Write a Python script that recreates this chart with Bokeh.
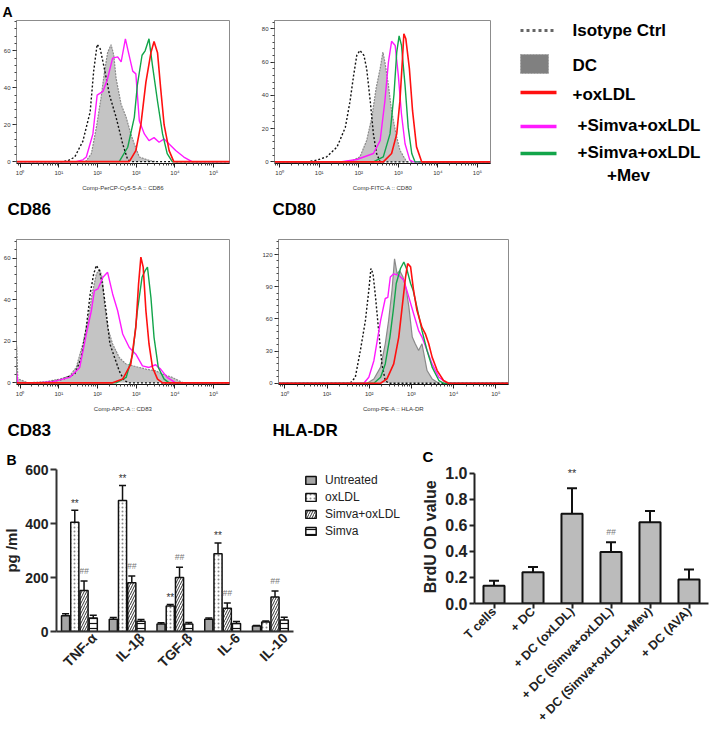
import math
from bokeh.plotting import figure
from bokeh.layouts import column, row
from bokeh.models import (Range1d, FixedTicker, SingleIntervalTicker, LabelSet, Title,
                          ColumnDataSource, Legend, LegendItem, Whisker, TeeHead)
from bokeh.core.properties import value
from bokeh.embed import file_html
from bokeh.resources import INLINE

FONT = "Liberation Sans"

# ---------------- Panel A: histograms, (log10 fluorescence, count) ----------------
cd86_iso = [(-0.1, 0), (1.1, 0), (1.24, 0.5), (1.41, 2.5), (1.62, 11), (1.81, 27), (1.90, 49), (1.99, 63.5),
            (2.07, 61), (2.18, 50), (2.31, 36), (2.48, 24), (2.65, 9.6), (2.78, 1), (2.9, 0), (5.42, 0)]
cd86_dc = [(1.6, 0), (1.71, 0.5), (1.84, 4.3), (1.97, 18.5), (2.09, 34.5), (2.18, 48.7), (2.26, 59), (2.35, 63.3),
           (2.42, 57.6), (2.48, 45), (2.61, 31), (2.74, 24), (2.86, 15), (2.95, 9.6), (3.08, 2.5), (3.33, 0.7), (3.5, 0)]
cd86_mag = [(-0.1, 0), (1.45, 0), (1.62, 1), (1.71, 2.5), (1.88, 15), (1.99, 36), (2.14, 38), (2.26, 45), (2.39, 56),
            (2.52, 56.7), (2.61, 54), (2.72, 66.5), (2.80, 59), (2.91, 49), (2.99, 47.5), (3.08, 22), (3.21, 15),
            (3.33, 11.4), (3.46, 13), (3.59, 10.5), (3.72, 12.3), (3.85, 9.6), (4.02, 6), (4.23, 2.5), (4.44, 0), (5.42, 0)]
cd86_grn = [(-0.1, 0), (2.56, 0), (2.78, 7.8), (2.95, 24), (3.03, 41.6), (3.15, 57.6), (3.23, 60), (3.33, 66.5),
            (3.42, 52), (3.55, 32.7), (3.68, 15), (3.80, 4.3), (3.93, 0), (5.42, 0)]
cd86_red = [(-0.1, 0), (2.82, 0), (2.99, 6), (3.12, 20), (3.25, 43), (3.38, 59), (3.46, 65), (3.55, 59),
            (3.63, 40), (3.72, 20), (3.85, 6), (3.97, 0), (5.42, 0)]

cd80_iso = [(-0.13, 0), (0.7, 0), (0.94, 1), (1.19, 3), (1.45, 8.9), (1.66, 20.7), (1.78, 36.5), (1.87, 52), (1.95, 64),
            (2.03, 67), (2.13, 64), (2.20, 56), (2.29, 36.5), (2.37, 16.8), (2.45, 5), (2.54, 0), (5.33, 0)]
cd80_dc = [(1.78, 0), (2.03, 3), (2.20, 12.8), (2.33, 26.7), (2.44, 44.4), (2.54, 56), (2.61, 66), (2.66, 60),
           (2.75, 46), (2.83, 30.6), (2.94, 16.8), (3.04, 7), (3.21, 0)]
cd80_mag = [(-0.13, 0), (1.53, 0), (1.95, 1.4), (2.37, 5), (2.54, 12.8), (2.66, 36.5), (2.75, 60), (2.83, 72.5),
            (2.92, 70), (3.00, 52), (3.08, 28.6), (3.17, 10.9), (3.29, 1), (3.38, 0), (5.33, 0)]
cd80_grn = [(-0.13, 0), (2.37, 0), (2.62, 3), (2.79, 16.8), (2.89, 40.5), (2.96, 66), (3.02, 75.7), (3.08, 70),
            (3.17, 46), (3.25, 20.7), (3.34, 5), (3.42, 0), (5.33, 0)]
cd80_red = [(-0.13, 0), (2.62, 0), (2.83, 5), (2.96, 16.8), (3.04, 36.5), (3.10, 60), (3.14, 77), (3.19, 74),
            (3.28, 56), (3.36, 30.6), (3.46, 9), (3.59, 0), (5.33, 0)]

cd83_iso = [(-0.1, 0), (0.68, 0), (1.11, 1.8), (1.41, 4.2), (1.58, 12), (1.71, 26.7), (1.81, 42.8), (1.90, 52.4),
            (1.97, 56.5), (2.05, 54), (2.14, 46), (2.22, 34.7), (2.32, 18.7), (2.44, 12.2), (2.56, 5.8), (2.69, 1),
            (2.82, 0), (5.42, 0)]
cd83_dc = [(-0.1, 0), (-0.09, 18), (-0.06, 2), (0.2, 0), (0.68, 0.6), (1.03, 1.8), (1.28, 3.4), (1.45, 7.4),
           (1.62, 18.7), (1.75, 30), (1.86, 42.8), (1.97, 52.4), (2.05, 54.8), (2.12, 50.8), (2.18, 38), (2.26, 26.7),
           (2.39, 18.7), (2.56, 12.2), (2.74, 9), (2.91, 8.2), (3.08, 7.4), (3.25, 6.6), (3.50, 5.8), (3.68, 4.2),
           (3.93, 2.6), (4.19, 0.2), (4.36, 0)]
cd83_mag = [(-0.1, 0), (-0.09, 5), (-0.06, 0), (0.43, 0), (0.85, 0.6), (1.28, 2.6), (1.54, 7.4), (1.71, 23.5),
            (1.84, 34.7), (1.92, 44.4), (2.01, 45.2), (2.14, 50.8), (2.26, 53.2), (2.39, 42.8), (2.52, 34.7),
            (2.65, 23.5), (2.82, 17), (2.99, 13.8), (3.16, 8.2), (3.33, 7.4), (3.50, 8.7), (3.63, 6.6), (3.80, 2.6),
            (4.02, 0), (5.42, 0)]
cd83_grn = [(-0.1, 0), (2.48, 0), (2.74, 2.6), (2.91, 13.8), (3.03, 34.7), (3.15, 50.8), (3.23, 54), (3.29, 55.7),
            (3.38, 41), (3.46, 21.9), (3.57, 7.4), (3.72, 1.8), (3.85, 0), (5.42, 0)]
cd83_red = [(-0.1, 0), (2.39, 0), (2.65, 1.8), (2.86, 9), (2.99, 26.7), (3.06, 47.6), (3.12, 60.5), (3.18, 55.7),
            (3.25, 34.7), (3.33, 18.7), (3.42, 7.4), (3.55, 1.8), (3.68, 0), (5.42, 0)]

hla_iso = [(-0.15, 0), (1.55, 0), (1.67, 5.6), (1.79, 30.5), (1.91, 58.6), (1.99, 86.7), (2.04, 107), (2.09, 102),
           (2.15, 80), (2.23, 46), (2.30, 18), (2.38, 2.5), (2.46, 0), (5.3, 0)]
hla_dc = [(1.95, 0), (2.11, 4), (2.27, 15), (2.38, 36.8), (2.46, 58.6), (2.54, 86.7), (2.60, 116), (2.66, 102),
          (2.72, 105), (2.80, 99), (2.88, 86.7), (2.94, 71), (3.02, 43), (3.09, 36.8), (3.17, 30.5), (3.25, 36.8),
          (3.31, 24.3), (3.37, 11.8), (3.49, 4), (3.65, 0)]
hla_mag = [(-0.15, 0), (1.87, 0), (1.99, 5.6), (2.11, 21), (2.27, 58.6), (2.38, 79), (2.44, 80), (2.50, 99),
           (2.58, 102), (2.70, 100.7), (2.82, 96), (2.94, 80), (3.05, 65), (3.17, 49), (3.25, 43), (3.37, 30.5),
           (3.49, 18), (3.65, 5.6), (3.84, 0), (5.3, 0)]
hla_grn = [(-0.15, 0), (2.11, 0), (2.27, 5.6), (2.38, 18), (2.49, 43), (2.57, 68), (2.64, 93), (2.74, 107),
           (2.82, 113), (2.90, 105), (2.98, 93), (3.04, 86.7), (3.13, 71), (3.25, 49), (3.37, 30.5), (3.49, 15),
           (3.65, 2.5), (3.76, 0), (5.3, 0)]
hla_red = [(-0.15, 0), (2.27, 0), (2.42, 4), (2.58, 18), (2.70, 43), (2.78, 71), (2.86, 99), (2.91, 111.6),
           (2.98, 108.5), (3.05, 86.7), (3.13, 68), (3.25, 52), (3.33, 46), (3.41, 36.8), (3.49, 24.3),
           (3.61, 11.8), (3.76, 2.5), (3.88, 0), (5.3, 0)]

decade_labels = ["10\u2070", "10\u00b9", "10\u00b2", "10\u00b3", "10\u2074", "10\u2075"]
legend_a_labels = ["Isotype Ctrl", "DC", "+oxLDL", "+Simva+oxLDL", "+Simva+oxLDL"]
legend_a_extra = "+Mev"

# ---------------- Panel B: cytokines (pg/ml) ----------------
cytokines = ["TNF-\u03b1", "IL-1\u03b2", "TGF-\u03b2", "IL-6", "IL-10"]
b_series = ["Untreated", "oxLDL", "Simva+oxLDL", "Simva"]
b_untreated = [58, 45, 28, 45, 20]
b_untreated_err = [8, 7, 4, 5, 2]
b_oxldl = [405, 485, 94, 288, 35]
b_oxldl_err = [44, 56, 6, 40, 4]
b_simva_ox = [152, 181, 200, 86, 128]
b_simva_ox_err = [35, 25, 38, 20, 22]
b_simva = [50, 38, 28, 30, 43]
b_simva_err = [10, 6, 5, 7, 10]
b_star_groups = [0, 1, 2, 3]        # "**" over oxLDL bars
b_hash_groups = [0, 1, 2, 3, 4]     # "##" over Simva+oxLDL bars

# ---------------- Panel C: BrdU ----------------
c_groups = ["T cells", "+ DC", "+ DC (oxLDL)", "+ DC (Simva+oxLDL)", "+ DC (Simva+oxLDL+Mev)", "+ DC (AVA)"]
c_values = [0.137, 0.24, 0.69, 0.395, 0.625, 0.185]
c_errors = [0.038, 0.04, 0.195, 0.075, 0.085, 0.077]
c_star_group = 2
c_hash_group = 3

GREEN = "#12A54A"
MAGENTA = "#FF1AFF"
RED = "#FF1010"
MINOR = [math.log10(m * 10 ** d) for d in range(-1, 5) for m in range(2, 10)]


def add_title(p, text, place, offset, size, standoff):
    p.add_layout(Title(text=text, align="left", offset=offset, text_font=FONT, text_font_size=size,
                       text_font_style="bold", text_color="black", standoff=standoff), place)


def hist_panel(curves, xr, yr, yint, xlabel, name, width, height, borders, name_dx, dc_dash):
    bl, br, bt, bb = borders
    p = figure(width=width, height=height, x_range=Range1d(*xr), y_range=Range1d(*yr),
               output_backend="svg", toolbar_location=None,
               min_border_left=bl, min_border_right=br, min_border_top=bt, min_border_bottom=bb)
    p.grid.visible = False
    p.outline_line_color = "#8C8C8C"
    iso, dc, mag, grn, red = curves
    dx = [a for a, b in dc]
    dy = [b for a, b in dc]
    p.varea(x=dx, y1=[0] * len(dx), y2=dy, fill_color="#C4C4C4")
    p.line(dx, dy, line_color="#8A8A8A", line_width=1.2, line_dash=dc_dash)
    for pts, col, lw, dash in [(iso, "#111111", 1.4, "2 2"), (mag, MAGENTA, 1.4, "solid"),
                               (grn, GREEN, 1.4, "solid"), (red, RED, 1.6, "solid")]:
        p.line([a for a, b in pts], [b for a, b in pts], line_color=col, line_width=lw, line_dash=dash)
    xa = p.xaxis[0]
    ya = p.yaxis[0]
    xa.ticker = FixedTicker(ticks=list(range(6)), minor_ticks=MINOR)
    xa.major_label_overrides = {i: decade_labels[i] for i in range(6)}
    ya.ticker = SingleIntervalTicker(interval=yint, num_minor_ticks=5)
    for ax in (xa, ya):
        ax.major_label_text_font = FONT
        ax.major_label_text_font_size = "6px"
        ax.major_label_text_color = "#333333"
        ax.major_tick_in = 0
        ax.major_tick_out = 4
        ax.minor_tick_in = 0
        ax.minor_tick_out = 2
        ax.major_tick_line_color = "#222222"
        ax.minor_tick_line_color = "#444444"
        ax.major_label_standoff = 2
    xa.axis_line_color = "#111111"
    ya.axis_line_color = "#8C8C8C"
    xa.axis_label = xlabel
    xa.axis_label_text_font = FONT
    xa.axis_label_text_font_size = "6px"
    xa.axis_label_text_font_style = "normal"
    xa.axis_label_text_color = "#333333"
    xa.axis_label_standoff = 6
    add_title(p, name, "below", name_dx, "17px", 8)
    return p


fA1 = hist_panel([cd86_iso, cd86_dc, cd86_mag, cd86_grn, cd86_red], (-0.094, 5.41), (-1, 76.4), 20,
                 "Comp-PerCP-Cy5-5-A :: CD86", "CD86", 250, 222, (16, 21, 18, 59), -9, "2 1")
add_title(fA1, "A", "above", -14, "14px", 2)
fA2 = hist_panel([cd80_iso, cd80_dc, cd80_mag, cd80_grn, cd80_red], (-0.13, 5.33), (-1, 85), 20,
                 "Comp-FITC-A :: CD80", "CD80", 250, 222, (24, 10, 18, 59), -2, "2 1")
fA3 = hist_panel([cd83_iso, cd83_dc, cd83_mag, cd83_grn, cd83_red], (-0.094, 5.41), (-0.8, 69), 20,
                 "Comp-APC-A :: CD83", "CD83", 250, 223, (16, 21, 17, 61), -9, "2 1")
fA4 = hist_panel([hla_iso, hla_dc, hla_mag, hla_grn, hla_red], (-0.15, 5.3), (-1.2, 134), 30,
                 "Comp-PE-A :: HLA-DR", "HLA-DR", 260, 223, (28, 2, 17, 61), -6, "solid")

# ---------------- legend for panel A ----------------
fL = figure(width=199, height=445, x_range=Range1d(0, 199), y_range=Range1d(445, 0),
            output_backend="svg", toolbar_location=None, min_border=0,
            x_axis_location=None, y_axis_location=None)
fL.grid.visible = False
fL.outline_line_color = None
line_y = [30, 92, 126, 153]
fL.line([10, 45], [line_y[0], line_y[0]], line_color="#666666", line_width=3, line_dash="3 3")
fL.quad(left=[10], right=[38], top=[54], bottom=[73], fill_color="#808080", line_color="#A0A0A0",
        line_dash="2 1", line_width=1)
for yy, col in zip(line_y[1:], [RED, MAGENTA, GREEN]):
    fL.line([10, 46], [yy, yy], line_color=col, line_width=3.5)
fL.text(x=[62, 62, 62, 67, 67], y=[30, 65, 94, 125, 152], text=legend_a_labels, text_font=value(FONT),
        text_font_size="17px", text_font_style="bold", text_baseline="middle", text_color="black")
fL.text(x=[118], y=[175], text=[legend_a_extra], text_font=value(FONT), text_font_size="17px",
        text_font_style="bold", text_baseline="middle", text_align="center", text_color="black")

# ---------------- Panel B ----------------
# frame extends to the right to hold the legend; the x axis line is bounded to the data groups
fB = figure(width=409, height=287, x_range=Range1d(0, 7.31), y_range=Range1d(0, 600),
            output_backend="svg", toolbar_location=None,
            min_border_left=52, min_border_right=4, min_border_top=24, min_border_bottom=101)
fB.grid.visible = False
fB.outline_line_color = None
offsets = [-0.29, -0.097, 0.097, 0.29]
bw = 0.17
styles = [dict(fill_color="#A6A6A6"),
          dict(fill_color="white", hatch_pattern="dot", hatch_color="#8A8A8A", hatch_scale=4, hatch_weight=1),
          dict(fill_color="white", hatch_pattern="right_diagonal_line", hatch_color="#333333", hatch_scale=5,
               hatch_weight=1),
          dict(fill_color="white", hatch_pattern="horizontal_line", hatch_color="#111111", hatch_scale=5,
               hatch_weight=1.2)]
b_vals = [b_untreated, b_oxldl, b_simva_ox, b_simva]
b_errs = [b_untreated_err, b_oxldl_err, b_simva_ox_err, b_simva_err]
items = []
bar_x = []
for k in range(4):
    xs = [i + 0.48 + offsets[k] for i in range(len(cytokines))]
    bar_x.append(xs)
    src = ColumnDataSource(dict(x=xs, top=b_vals[k],
                                upper=[v + e for v, e in zip(b_vals[k], b_errs[k])]))
    r = fB.vbar(x="x", top="top", width=bw, source=src, line_color="#111111", line_width=1.5, **styles[k])
    fB.add_layout(Whisker(source=src, base="x", lower="top", upper="upper", dimension="height",
                          line_color="#111111", line_width=1.5,
                          upper_head=TeeHead(size=7, line_color="#111111", line_width=1.5), lower_head=None))
    items.append(LegendItem(label=b_series[k], renderers=[r]))
star_src = ColumnDataSource(dict(x=[bar_x[1][g] for g in b_star_groups],
                                 y=[b_oxldl[g] + b_oxldl_err[g] for g in b_star_groups],
                                 t=["**"] * len(b_star_groups)))
fB.add_layout(LabelSet(x="x", y="y", text="t", source=star_src, text_font=value(FONT), text_font_size="10px",
                       text_color="#333333", text_align="center", text_baseline="middle", y_offset=7))
hash_src = ColumnDataSource(dict(x=[bar_x[2][g] for g in b_hash_groups],
                                 y=[b_simva_ox[g] + b_simva_ox_err[g] for g in b_hash_groups],
                                 t=["##"] * len(b_hash_groups)))
fB.add_layout(LabelSet(x="x", y="y", text="t", source=hash_src, text_font=value(FONT), text_font_size="8.5px",
                       text_font_style="italic", text_color="#777777", text_align="center",
                       text_baseline="middle", y_offset=10))
legB = Legend(items=items, location=(248, 93), padding=0, spacing=3, margin=0, glyph_width=13, glyph_height=10,
              label_height=14, label_standoff=8, label_text_font=FONT, label_text_font_size="12px",
              label_text_color="#222222", border_line_color=None, background_fill_alpha=0)
fB.add_layout(legB)
label_ticks = [i + 0.48 + 0.31 for i in range(len(cytokines))]
xb = fB.xaxis[0]
xb.ticker = FixedTicker(ticks=label_ticks)
xb.bounds = (0, 4.97)
xb.major_label_overrides = {t: c for t, c in zip(label_ticks, cytokines)}
xb.major_label_orientation = math.pi / 4
xb.major_tick_out = 0
xb.major_tick_in = 0
xb.minor_tick_out = 0
xb.minor_tick_in = 0
xb.major_label_standoff = 4
yb = fB.yaxis[0]
yb.ticker = FixedTicker(ticks=[0, 200, 400, 600])
yb.major_tick_out = 6
yb.major_tick_in = 0
yb.minor_tick_out = 0
yb.minor_tick_in = 0
yb.major_label_standoff = 2
yb.axis_label = "pg /ml"
yb.axis_label_standoff = 2
for ax in (xb, yb):
    ax.axis_line_width = 2
    ax.axis_line_color = "#333333"
    ax.major_tick_line_width = 2
    ax.major_tick_line_color = "#333333"
    ax.major_label_text_font = FONT
    ax.major_label_text_font_style = "bold"
    ax.major_label_text_font_size = "14px"
    ax.major_label_text_color = "#222222"
    ax.axis_label_text_font = FONT
    ax.axis_label_text_font_style = "bold"
    ax.axis_label_text_font_size = "15px"
    ax.axis_label_text_color = "#222222"
add_title(fB, "B", "above", -50, "14px", 3)

# ---------------- Panel C ----------------
fC = figure(width=300, height=287, x_range=Range1d(0, 6), y_range=Range1d(0, 1.06),
            output_backend="svg", toolbar_location=None,
            min_border_left=65, min_border_right=1, min_border_top=18, min_border_bottom=127)
fC.grid.visible = False
fC.outline_line_color = None
cx = [i + 0.5 for i in range(len(c_groups))]
csrc = ColumnDataSource(dict(x=cx, top=c_values, upper=[v + e for v, e in zip(c_values, c_errors)]))
fC.vbar(x="x", top="top", width=0.54, source=csrc, fill_color="#BBBBBB", line_color="#111111", line_width=2)
fC.add_layout(Whisker(source=csrc, base="x", lower="top", upper="upper", dimension="height",
                      line_color="#111111", line_width=2,
                      upper_head=TeeHead(size=10, line_color="#111111", line_width=2), lower_head=None))
fC.add_layout(LabelSet(x="x", y="y", text="t",
                       source=ColumnDataSource(dict(x=[cx[c_star_group]],
                                                    y=[c_values[c_star_group] + c_errors[c_star_group]],
                                                    t=["**"])),
                       text_font=value(FONT), text_font_size="11px", text_color="#333333",
                       text_align="center", text_baseline="middle", y_offset=15))
fC.add_layout(LabelSet(x="x", y="y", text="t",
                       source=ColumnDataSource(dict(x=[cx[c_hash_group]],
                                                    y=[c_values[c_hash_group] + c_errors[c_hash_group]],
                                                    t=["##"])),
                       text_font=value(FONT), text_font_size="8.5px", text_font_style="italic",
                       text_color="#777777", text_align="center", text_baseline="middle", y_offset=10))
xc = fC.xaxis[0]
xc.ticker = FixedTicker(ticks=cx)
xc.major_label_overrides = {t: g for t, g in zip(cx, c_groups)}
xc.major_label_orientation = math.pi / 4
xc.major_label_standoff = 1
yc = fC.yaxis[0]
yc.ticker = FixedTicker(ticks=[0.0, 0.2, 0.4, 0.6, 0.8, 1.0])
yc.bounds = (0, 1.0)
yc.major_label_overrides = {0.0: "0.0", 0.2: "0.2", 0.4: "0.4", 0.6: "0.6", 0.8: "0.8", 1.0: "1.0"}
yc.major_label_standoff = 2
yc.axis_label = "BrdU  OD value"
yc.axis_label_standoff = 3
for ax in (xc, yc):
    ax.axis_line_width = 2
    ax.axis_line_color = "#222222"
    ax.major_tick_out = 5
    ax.major_tick_in = 0
    ax.minor_tick_out = 0
    ax.minor_tick_in = 0
    ax.major_tick_line_width = 2
    ax.major_tick_line_color = "#222222"
    ax.major_label_text_font = FONT
    ax.major_label_text_font_style = "bold"
    ax.major_label_text_color = "#222222"
    ax.axis_label_text_font = FONT
    ax.axis_label_text_font_style = "bold"
    ax.axis_label_text_font_size = "16px"
    ax.axis_label_text_color = "#222222"
xc.major_label_text_font_size = "12.5px"
yc.major_label_text_font_size = "16px"
add_title(fC, "C", "above", -52, "15px", 1)

top = row(column(row(fA1, fA2), row(fA3, fA4)), fL)
bottom = row(column(fB), column(fC))
layout = column(top, bottom)
open("out.html", "w").write(file_html(layout, INLINE))
